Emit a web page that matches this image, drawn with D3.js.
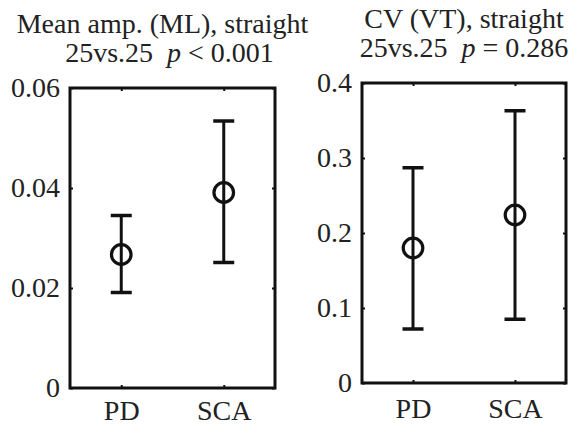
<!DOCTYPE html>
<html>
<head>
<meta charset="utf-8">
<script src="https://cdn.jsdelivr.net/npm/d3@7"></script>
<style>
  html, body { margin: 0; padding: 0; background: #fff; }
  svg { display: block; }
  text { font-family: "Liberation Serif", "Times New Roman", serif; fill: #222; }
</style>
</head>
<body>
<svg id="chart" width="572" height="427"></svg>
<script>
// Group labels
const categories = ["PD", "SCA"];

// Mean amplitude (ML): mean with lower/upper error bar ends
const ampMean = [0.0267, 0.0391];
const ampLow  = [0.0191, 0.0251];
const ampHigh = [0.0345, 0.0534];
const ampTicks = [0, 0.02, 0.04, 0.06];
const ampTickLabels = ["0", "0.02", "0.04", "0.06"];

// Coefficient of variation (VT)
const cvMean = [0.180, 0.224];
const cvLow  = [0.072, 0.085];
const cvHigh = [0.287, 0.363];
const cvTicks = [0, 0.1, 0.2, 0.3, 0.4];
const cvTickLabels = ["0", "0.1", "0.2", "0.3", "0.4"];

const panels = [
  {
    title: "Mean amp. (ML), straight", sub: "25vs.25", op: "< 0.001",
    mean: ampMean, low: ampLow, high: ampHigh,
    ticks: ampTicks, tickLabels: ampTickLabels, ymax: 0.06,
    box: { left: 70, right: 275, top: 88, bottom: 388 }, titleDx: -10, subDx: -3, xPad: 12
  },
  {
    title: "CV (VT), straight", sub: "25vs.25", op: "= 0.286",
    mean: cvMean, low: cvLow, high: cvHigh,
    ticks: cvTicks, tickLabels: cvTickLabels, ymax: 0.4,
    box: { left: 362, right: 566, top: 83, bottom: 383 }, titleDx: 0, subDx: 0, xPad: 15
  }
];

const svg = d3.select("#chart");
const ink = "#111";
const fs = 28;

panels.forEach(p => {
  const b = p.box;
  const x = d3.scaleLinear().domain([0.5, 2.5]).range([b.left, b.right]);
  const y = d3.scaleLinear().domain([0, p.ymax]).range([b.bottom, b.top]);
  const g = svg.append("g");
  const cx = (b.left + b.right) / 2;

  // Title, two lines
  g.append("text")
    .attr("x", cx + p.titleDx).attr("y", b.top - 55)
    .attr("text-anchor", "middle").style("font-size", fs + "px")
    .text(p.title);
  const t2 = g.append("text")
    .attr("x", cx + p.subDx).attr("y", b.top - 26)
    .attr("text-anchor", "middle").style("font-size", fs + "px");
  t2.append("tspan").text(p.sub + "\u00a0\u00a0");
  t2.append("tspan").style("font-style", "italic").text("p");
  t2.append("tspan").text(" " + p.op);

  // Axes: ticks point inward on all four sides
  const idx = categories.map((c, i) => i + 1);
  const left = d3.axisLeft(y).tickValues(p.ticks).tickSize(-3).tickPadding(10)
    .tickFormat((d, i) => p.tickLabels[i]);
  const right = d3.axisRight(y).tickValues(p.ticks).tickSize(-3).tickFormat("");
  const bottom = d3.axisBottom(x).tickValues(idx).tickSize(-3).tickPadding(p.xPad)
    .tickFormat((d, i) => categories[i]);
  const top = d3.axisTop(x).tickValues(idx).tickSize(-3).tickFormat("");

  const styleAxis = sel => {
    sel.attr("font-family", null).attr("font-size", null);
    sel.select(".domain").remove();
    sel.selectAll(".tick line").attr("stroke", ink).attr("stroke-width", 2);
    sel.selectAll(".tick text").style("font-size", fs + "px")
      .style("font-family", "'Liberation Serif', serif").style("fill", "#222");
  };
  g.append("g").attr("transform", `translate(${b.left},0)`).call(left).call(styleAxis);
  g.append("g").attr("transform", `translate(${b.right},0)`).call(right).call(styleAxis);
  g.append("g").attr("transform", `translate(0,${b.bottom})`).call(bottom).call(styleAxis);
  g.append("g").attr("transform", `translate(0,${b.top})`).call(top).call(styleAxis);

  // Frame
  g.append("rect")
    .attr("x", b.left).attr("y", b.top)
    .attr("width", b.right - b.left).attr("height", b.bottom - b.top)
    .attr("fill", "none").attr("stroke", ink).attr("stroke-width", 3);

  // Error bars with mean markers
  const capW = 10.5;
  categories.forEach((c, i) => {
    const px = x(i + 1);
    g.append("line")
      .attr("x1", px).attr("x2", px)
      .attr("y1", y(p.low[i])).attr("y2", y(p.high[i]))
      .attr("stroke", ink).attr("stroke-width", 3);
    [p.low[i], p.high[i]].forEach(v => {
      g.append("line")
        .attr("x1", px - capW).attr("x2", px + capW)
        .attr("y1", y(v)).attr("y2", y(v))
        .attr("stroke", ink).attr("stroke-width", 3.5);
    });
    g.append("circle")
      .attr("cx", px).attr("cy", y(p.mean[i])).attr("r", 9.8)
      .attr("fill", "none").attr("stroke", ink).attr("stroke-width", 3.2);
  });
});
</script>
</body>
</html>
